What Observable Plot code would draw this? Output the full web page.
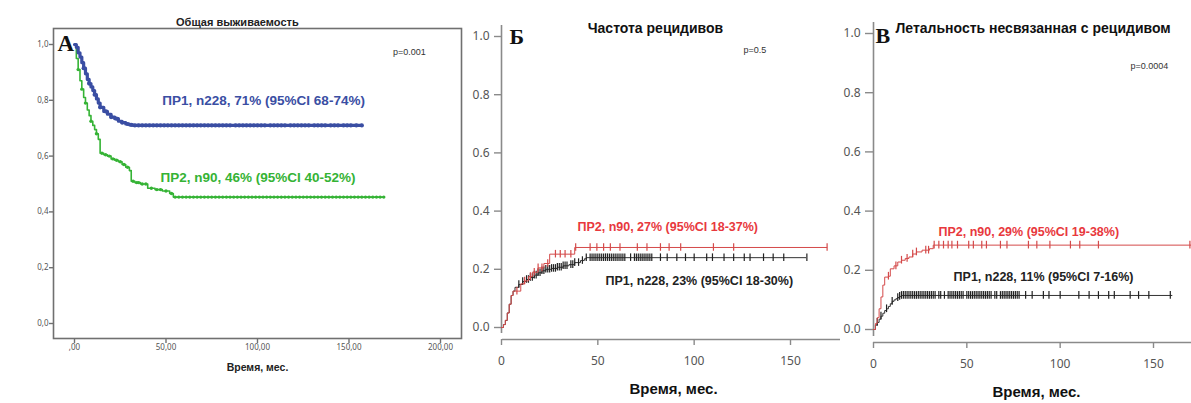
<!DOCTYPE html>
<html><head><meta charset="utf-8">
<script src="https://cdn.jsdelivr.net/npm/d3@7"></script>
<script src="https://cdn.jsdelivr.net/npm/@observablehq/plot@0.6"></script>
<style>
html,body{margin:0;padding:0;background:#fff;}
#chart{position:relative;width:1191px;height:403px;overflow:hidden;background:#fff;}
#chart svg{position:absolute;left:0;top:0;}
</style>
</head><body><div id="chart"></div>
<script>
// ---------- Panel A: overall survival ----------
const osTimePR1 = [0,1,2,3,4,5,6,7,8,9,10,11,12,13,14,16,18,20,22,24,26,28,30,32,157];
const osSurvPR1 = [1,0.99,0.97,0.955,0.935,0.915,0.895,0.875,0.86,0.848,0.835,0.82,0.805,0.79,0.775,0.76,0.75,0.74,0.734,0.725,0.72,0.715,0.712,0.71,0.71];
const osCensorPR1 = [5,8,11,14,17,20,23,26,29,31,33,35,37,39,41,43,45,47,49,51,53,55,57,59,61,63,65,67,69,71,73,75,77,79,81,83,85,88,90,92,94,96,98,100,102,104,107,109,111,113,115,118,120,122,124,126,128,131,133,135,137,140,142,144,147,149,151,154,157];
const osTimePR2 = [0,1,2,3,4,5,6,7,8,9,10,11,12,13,14,16,18,20,22,24,26,28,30,31,33,36,40,44,48,52,54,169];
const osSurvPR2 = [1,0.95,0.91,0.87,0.84,0.81,0.79,0.765,0.745,0.725,0.71,0.695,0.68,0.66,0.61,0.605,0.6,0.59,0.585,0.58,0.57,0.56,0.548,0.51,0.505,0.5,0.485,0.48,0.475,0.466,0.453,0.453];
const osCensorPR2 = [2,4,6,9,12,15,17,19,21,23,25,27,29,32,34,35,37,39,42,45,47,50,53,55,57,59,61,63,65,67,69,71,73,75,77,79,81,83,85,87,89,91,93,95,97,99,101,103,105,107,109,111,113,115,117,119,121,123,125,127,129,131,133,135,137,139,141,143,145,147,149,151,153,155,157,159,161,163,165,167,169];
const osXTicks = [0,50,100,150,200];
const osYTicks = [0,0.2,0.4,0.6,0.8,1.0];

// ---------- Panel Б: relapse incidence ----------
const rfTimePR2 = [0,1,2,3,4,5,6,9,10,12,14,16,19,22,25,38,169];
const rfIncPR2  = [0,0.01,0.025,0.05,0.08,0.11,0.125,0.125,0.15,0.16,0.175,0.19,0.205,0.22,0.252,0.275,0.275];
const rfCensorPR2 = [8,12,15,17,19,21,24,28,30.5,33,36,38.5,46,49.5,53,56.5,61.5,70.5,75.5,82.5,87,93,110,120.5,169];
const rfTimePR1 = [0,1,2,3,4,5,6,7,9,11,13,15,17,19,21,23,26,29,32,35,38,41,43,44,158];
const rfIncPR1  = [0,0.01,0.024,0.05,0.08,0.11,0.125,0.138,0.148,0.158,0.165,0.172,0.18,0.188,0.195,0.2,0.203,0.207,0.212,0.216,0.223,0.23,0.236,0.24,0.24];
const rfCensorPR1 = [9,11,13,14,15,16,17,18,19,20,21,22,23,24,25,26,27,28,29,30,31,32,33,34,36,37,38,40,42,44,46,47,48,49,50,51,52,53,54,55,56,57,58,59,60,61,62,63,64,67,69,70,71,72,73,74,75,76,77,78,82.5,86,91,95.5,100,106.5,109.5,115.5,120.5,126,129,136,141,146.5,158.5];

// ---------- Panel В: non-relapse mortality ----------
const nrmTimePR2 = [0,1,2,3,4,5,6,8,9,11,13,15,17,19,21,23,26,30,32,170];
const nrmIncPR2  = [0,0.02,0.04,0.07,0.11,0.15,0.177,0.18,0.205,0.215,0.228,0.234,0.24,0.245,0.255,0.262,0.268,0.273,0.285,0.285];
const nrmCensorPR2 = [8,12,15,18,21,23,28,29.5,32.5,35,37.5,40,42,45,51,53.5,58,60.5,68,71.5,83,87.5,94.5,105.5,110.5,120.5,169.5];
const nrmTimePR1 = [0,1,2,3,4,5,6,7,8,9,10,11,12,13,14,15,160];
const nrmIncPR1  = [0,0.015,0.024,0.035,0.045,0.055,0.064,0.07,0.078,0.087,0.095,0.1,0.104,0.108,0.112,0.115,0.115];
const nrmCensorPR1 = [2,4,7,10,13,14,15,16,17,18,19,20,21,22,23,24,25,26,27,28,29,30,31,32,33,35,36,38,40,41,42,43,44,45,46,47,48,50,51,52,53,54,55,56,57,58,59,60,61,62,63,65,66,68,69,70,71,72,73,74,75,76,77,78,81.5,85,91,94,100,110,115.5,120.5,126,129,137.5,142,147.5,159];
const ciXTicks = [0,50,100,150];
const ciYTicks = [0,0.2,0.4,0.6,0.8,1.0];

// ---------- texts ----------
const titleA = "Общая выживаемость";
const titleB = "Частота рецидивов";
const titleC = "Летальность несвязанная с рецидивом";
const xLabel = "Время, мес.";
const labelsA = ["ПР1, n228, 71% (95%CI 68-74%)", "ПР2, n90, 46% (95%CI 40-52%)"];
const labelsB = ["ПР2, n90, 27% (95%CI 18-37%)", "ПР1, n228, 23% (95%CI 18-30%)"];
const labelsC = ["ПР2, n90, 29% (95%CI 19-38%)", "ПР1, n228, 11% (95%CI 7-16%)"];
const pValues = ["p=0.001", "p=0.5", "p=0.0004"];
const letters = ["A", "Б", "В"];

// ---------- helpers ----------
const W = 1191, H = 403;
const SANS = "'Liberation Sans', Arial, sans-serif";
const SERIF = "'Liberation Serif', 'Times New Roman', serif";
function stepAt(ts, vs, t) { let v = vs[0]; for (let i = 0; i < ts.length; i++) { if (ts[i] <= t) v = vs[i]; else break; } return v; }
const rows = (ts, vs) => ts.map((t, i) => ({t, v: vs[i]}));
const cens = (cs, ts, vs) => cs.map(t => ({t, v: stepAt(ts, vs, t)}));
const txt = (s, x, y, o) => Plot.text([s], {x: () => x, y: () => y, text: d => d, fontFamily: SANS, ...o});
const transparent = {background: "transparent", overflow: "visible"};

const BLUE = "#3a4ea3", GREEN = "#35b335", RED = "#e8383d", REDLINE = "#d44a4a", BLACK = "#222";
const comma = (d, n) => d3.format("." + n + "f")(d).replace(".", ",");

// ---------- Panel A ----------
const plotA = Plot.plot({
  width: W, height: H,
  marginLeft: 53, marginRight: W - 461, marginTop: 28, marginBottom: H - 338,
  x: {domain: [0, 200], range: [74, 440]},
  y: {domain: [0, 1], range: [323, 44]},
  style: transparent,
  marks: [
    Plot.frame({stroke: "#707070", strokeWidth: 1.6}),
    Plot.axisX({ticks: osXTicks, tickFormat: d => d === 0 ? ",00" : comma(d, 2), tickSize: 5, tickPadding: 1, fontSize: 8, fill: "#555", stroke: "#707070", strokeWidth: 1.4, label: null}),
    Plot.axisY({ticks: osYTicks, tickFormat: d => comma(d, 1), tickSize: 4, tickPadding: 1, fontSize: 8, fill: "#555", stroke: "#707070", strokeWidth: 1.4, label: null}),
    Plot.line(rows(osTimePR2, osSurvPR2), {x: "t", y: "v", curve: "step-after", stroke: GREEN, strokeWidth: 1.6}),
    Plot.dot(cens(osCensorPR2, osTimePR2, osSurvPR2), {x: "t", y: "v", r: 1.7, fill: GREEN}),
    Plot.line(rows(osTimePR1, osSurvPR1), {x: "t", y: "v", curve: "step-after", stroke: BLUE, strokeWidth: 3.2}),
    Plot.dot(cens(osCensorPR1, osTimePR1, osSurvPR1), {x: "t", y: "v", r: 2.1, fill: BLUE}),
    txt(titleA, 89, 1.079, {fontSize: 11, fontWeight: "bold", fill: "#222"}),
    txt(xLabel, 100, -0.158, {fontSize: 10.5, fontWeight: "bold", fill: "#222"}),
    txt(pValues[0], 174, 0.971, {fontSize: 9, textAnchor: "start", fill: "#333"}),
    txt(labelsA[0], 48, 0.8, {fontSize: 13.5, fontWeight: "bold", textAnchor: "start", fill: BLUE}),
    txt(labelsA[1], 47, 0.523, {fontSize: 13.5, fontWeight: "bold", textAnchor: "start", fill: GREEN}),
    txt(letters[0], -9.3, 1.003, {fontSize: 23, fontWeight: "bold", fontFamily: SERIF, textAnchor: "start", fill: "#111"})
  ]
});

// ---------- cumulative incidence panels ----------
function ciPanel(cfg) {
  const ys = d3.scaleLinear([0, 1], cfg.yRange);
  const yLow = ys.invert(cfg.frameBottom);
  return Plot.plot({
    width: W, height: H,
    marginLeft: cfg.frameLeft, marginRight: W - cfg.frameRight, marginTop: cfg.frameTop, marginBottom: H - cfg.frameBottom,
    x: {domain: [0, 150], range: cfg.xRange},
    y: {domain: [0, 1], range: cfg.yRange},
    style: transparent,
    marks: [
      Plot.ruleX([0], {y1: ys.invert(cfg.frameBottom - 6), y2: ys.invert(cfg.frameTop), stroke: "#8a8a8a", strokeWidth: 1.6}),
      Plot.ruleY([yLow], {stroke: "#8a8a8a", strokeWidth: 1.6}),
      Plot.axisX({ticks: ciXTicks, tickFormat: d3.format("d"), tickSize: 6, tickPadding: 11, fontSize: 12, fill: "#555", stroke: "#8a8a8a", strokeWidth: 1.4, label: null}),
      Plot.axisY({ticks: ciYTicks, tickFormat: d3.format(".1f"), tickSize: 8, tickPadding: 5, fontSize: 12, fill: "#555", stroke: "#8a8a8a", strokeWidth: 1.4, label: null}),
      Plot.line(rows(cfg.t1, cfg.v1), {x: "t", y: "v", curve: "step-after", stroke: "#333", strokeWidth: 1}),
      Plot.ruleX(cens(cfg.c1, cfg.t1, cfg.v1), {x: "t", y1: d => d.v - 0.013, y2: d => d.v + 0.013, stroke: "#222", strokeWidth: 1.2}),
      Plot.line(rows(cfg.t2, cfg.v2), {x: "t", y: "v", curve: "step-after", stroke: REDLINE, strokeWidth: 1}),
      Plot.ruleX(cens(cfg.c2, cfg.t2, cfg.v2), {x: "t", y1: d => d.v - 0.013, y2: d => d.v + 0.013, stroke: REDLINE, strokeWidth: 1.2}),
      txt(cfg.title, cfg.titleX, cfg.titleY, {fontSize: 14, fontWeight: "bold", fill: "#111", textAnchor: cfg.titleAnchor}),
      txt(xLabel, cfg.xlabX, cfg.xlabY, {fontSize: 15, fontWeight: "bold", fill: "#111"}),
      txt(cfg.p, cfg.pX, cfg.pY, {fontSize: 9, textAnchor: "start", fill: "#333"}),
      txt(cfg.labels[0], cfg.l1X, cfg.l1Y, {fontSize: 12.5, fontWeight: "bold", textAnchor: "start", fill: RED}),
      txt(cfg.labels[1], cfg.l2X, cfg.l2Y, {fontSize: 12.5, fontWeight: "bold", textAnchor: "start", fill: BLACK}),
      txt(cfg.letter, cfg.letX, cfg.letY, {fontSize: 22, fontWeight: "bold", fontFamily: SERIF, textAnchor: "start", fill: "#111"})
    ]
  });
}

const plotB = ciPanel({
  frameLeft: 502, frameRight: 840, frameTop: 25, frameBottom: 339,
  xRange: [501, 790], yRange: [327, 36],
  t1: rfTimePR1, v1: rfIncPR1, c1: rfCensorPR1,
  t2: rfTimePR2, v2: rfIncPR2, c2: rfCensorPR2,
  title: titleB, titleX: 79.9, titleY: 1.027, titleAnchor: "middle",
  xlabX: 89.3, xlabY: -0.213,
  p: pValues[1], pX: 125.6, pY: 0.952,
  labels: labelsB, l1X: 39.4, l1Y: 0.344, l2X: 54, l2Y: 0.1615,
  letter: letters[1], letX: 4.2, letY: 0.997
});

const plotC = ciPanel({
  frameLeft: 873, frameRight: 1191, frameTop: 22, frameBottom: 342,
  xRange: [873, 1153], yRange: [329, 33],
  t1: nrmTimePR1, v1: nrmIncPR1, c1: nrmCensorPR1,
  t2: nrmTimePR2, v2: nrmIncPR2, c2: nrmCensorPR2,
  title: titleC, titleX: 11.8, titleY: 1.017, titleAnchor: "start",
  xlabX: 87.3, xlabY: -0.212,
  p: pValues[2], pX: 137.7, pY: 0.8885,
  labels: labelsC, l1X: 34.8, l1Y: 0.328, l2X: 42.9, l2Y: 0.176,
  letter: letters[2], letX: 1.07, letY: 0.993
});

const root = document.getElementById("chart");
root.append(plotA, plotB, plotC);
</script></body></html>
